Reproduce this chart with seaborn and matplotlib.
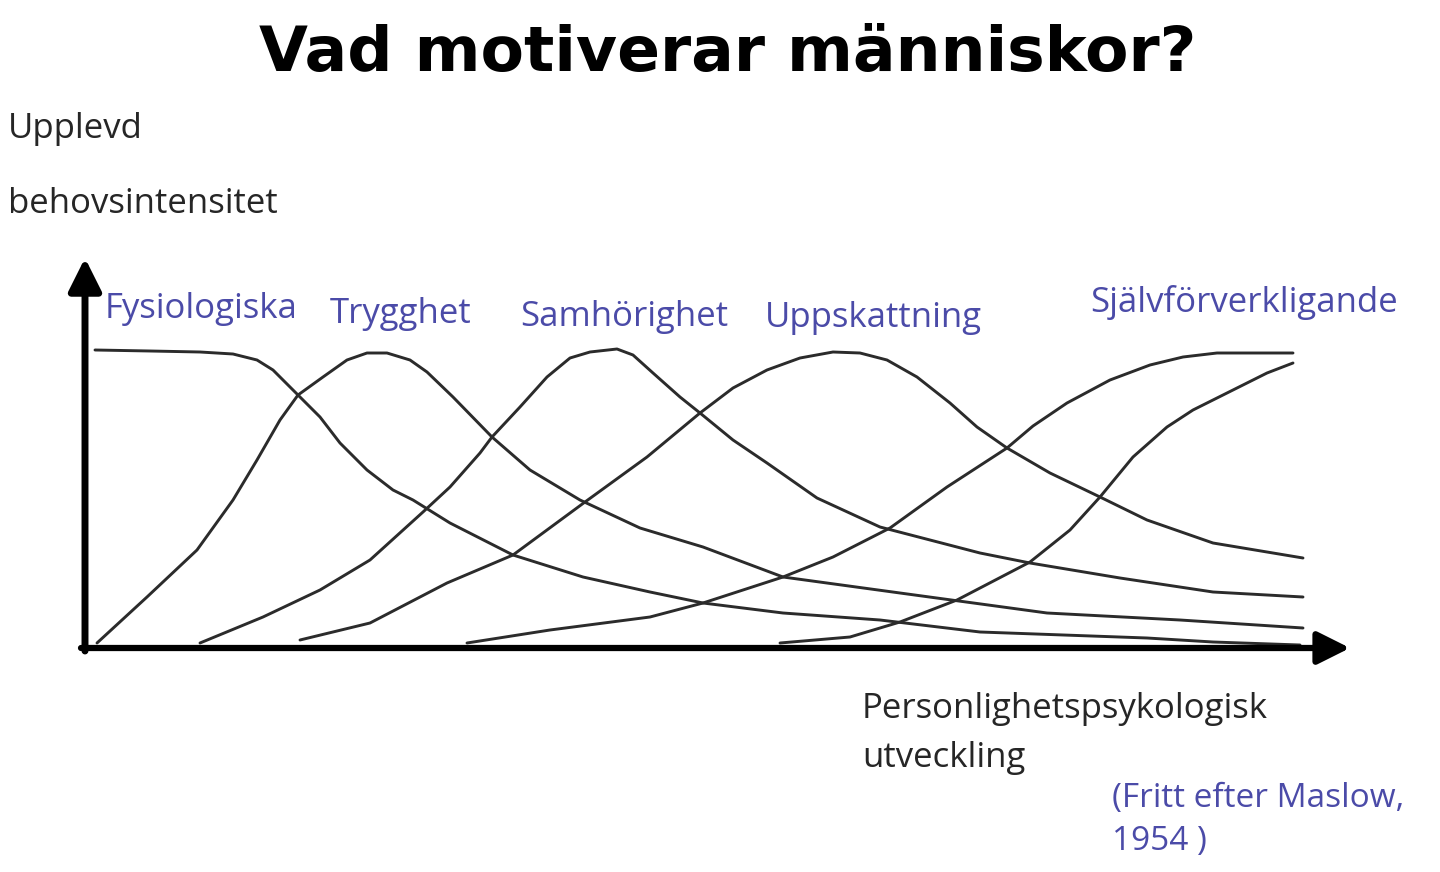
import matplotlib
matplotlib.use("Agg")
import matplotlib.pyplot as plt
import seaborn as sns
import pandas as pd

# ---- data (x: development, y: experienced need intensity) ----
names = ["Fysiologiska", "Trygghet", "Samhörighet", "Uppskattning", "Självförverkligande", "Självförverkligande 2"]

fys_x = [10, 65, 115, 148, 172, 188, 213, 235, 255, 282, 308, 328, 365, 428, 498, 565, 618, 698, 795, 895, 1062, 1128, 1215]
fys_y = [298, 297, 296, 294, 288, 278, 253, 231, 205, 178, 158, 148, 125, 93, 71, 56, 45, 35, 28, 16, 10, 6, 3]

tryg_x = [12, 62, 112, 148, 172, 195, 213, 238, 262, 282, 302, 325, 342, 368, 407, 445, 495, 555, 618, 698, 815, 962, 1095, 1218]
tryg_y = [5, 51, 98, 148, 188, 228, 253, 271, 288, 295, 295, 288, 276, 251, 211, 178, 148, 120, 101, 71, 55, 35, 28, 20]

samh_x = [115, 178, 235, 285, 338, 365, 395, 407, 435, 462, 485, 505, 532, 548, 568, 595, 615, 648, 682, 732, 795, 895, 945, 1035, 1128, 1218]
samh_y = [5, 31, 58, 88, 136, 161, 195, 211, 241, 271, 290, 296, 299, 293, 275, 251, 235, 208, 185, 150, 121, 95, 85, 70, 56, 51]

upp_x = [215, 285, 362, 428, 500, 562, 615, 648, 682, 715, 748, 775, 802, 832, 865, 892, 922, 965, 1015, 1062, 1128, 1218]
upp_y = [8, 25, 65, 93, 146, 191, 235, 260, 278, 290, 296, 295, 288, 271, 245, 221, 200, 175, 151, 128, 105, 90]

sjalv_x = [382, 465, 565, 618, 698, 748, 805, 862, 922, 948, 982, 1025, 1065, 1098, 1132, 1208]
sjalv_y = [5, 18, 31, 45, 71, 91, 120, 161, 200, 222, 245, 268, 283, 291, 295, 295]

sjalv2_x = [695, 765, 815, 872, 945, 985, 1015, 1048, 1082, 1108, 1148, 1182, 1208]
sjalv2_y = [5, 11, 26, 48, 86, 118, 151, 191, 221, 238, 258, 275, 285]

title = "Vad motiverar människor?"
y_label = ["Upplevd", "behovsintensitet"]
x_label = ["Personlighetspsykologisk", "utveckling"]
source = ["(Fritt efter Maslow,", "1954 )"]

# ---- build table ----
series = [(fys_x, fys_y), (tryg_x, tryg_y), (samh_x, samh_y),
          (upp_x, upp_y), (sjalv_x, sjalv_y), (sjalv2_x, sjalv2_y)]
rows = []
for name, (xs, ys) in zip(names, series):
    for i, (x, y) in enumerate(zip(xs, ys)):
        rows.append({"curve": name, "x": x, "y": y, "order": i})
df = pd.DataFrame(rows)

sns.set_theme(style="white")
plt.rcParams["font.family"] = ["Open Sans", "DejaVu Sans"]

W, H = 1440, 872
fig = plt.figure(figsize=(W / 100, H / 100), dpi=100)
fig.patch.set_facecolor("white")

# axes placed so that its origin sits at the arrow origin
left_px, right_px, bottom_px, top_px = 85, 1350, 648, 258
ax = fig.add_axes([left_px / W, 1 - bottom_px / H, (right_px - left_px) / W, (bottom_px - top_px) / H])
ax.set_xlim(0, right_px - left_px)
ax.set_ylim(0, bottom_px - top_px)
ax.axis("off")

sns.lineplot(data=df, x="x", y="y", units="curve", estimator=None, sort=False,
             color="#2b2b2b", linewidth=2.1, ax=ax, legend=False)
for line in ax.get_lines():
    line.set_solid_capstyle("round")
    line.set_solid_joinstyle("round")

# axis arrows
xmax = right_px - left_px
ymax = bottom_px - top_px
ax.annotate("", xy=(xmax, 0), xytext=(-4, 0),
            arrowprops=dict(arrowstyle="-|>,head_length=0.9,head_width=0.45", lw=4.5,
                            color="black", shrinkA=0, shrinkB=0, mutation_scale=22),
            annotation_clip=False)
ax.annotate("", xy=(0, ymax), xytext=(0, -3),
            arrowprops=dict(arrowstyle="-|>,head_length=0.9,head_width=0.45", lw=5,
                            color="black", shrinkA=0, shrinkB=0, mutation_scale=22),
            annotation_clip=False)

def ftext(xp, yp, s, **kw):
    fig.text(xp / W, 1 - yp / H, s, **kw)

# title
ftext(728, 54, title, ha="center", va="center", fontsize=45.5, fontweight="bold",
      family=["DejaVu Sans"], color="black")

txt_col = "#262626"
blue = "#4b4ba8"
fs = 25

ftext(8, 129, y_label[0], ha="left", va="center", fontsize=fs, color=txt_col)
ftext(8, 204, y_label[1], ha="left", va="center", fontsize=fs, color=txt_col)

ftext(862, 709, x_label[0], ha="left", va="center", fontsize=fs, color=txt_col)
ftext(862, 758, x_label[1], ha="left", va="center", fontsize=fs, color=txt_col)

ftext(1112, 798, source[0], ha="left", va="center", fontsize=24, color=blue)
ftext(1112, 841, source[1], ha="left", va="center", fontsize=24, color=blue)

label_pos = [(105, 309), (330, 314), (520, 317), (765, 318), (1090, 302)]
for name, (xp, yp) in zip(names[:5], label_pos):
    ftext(xp, yp, name, ha="left", va="center", fontsize=fs, color=blue)

fig.savefig("out.png", dpi=100, facecolor="white")
